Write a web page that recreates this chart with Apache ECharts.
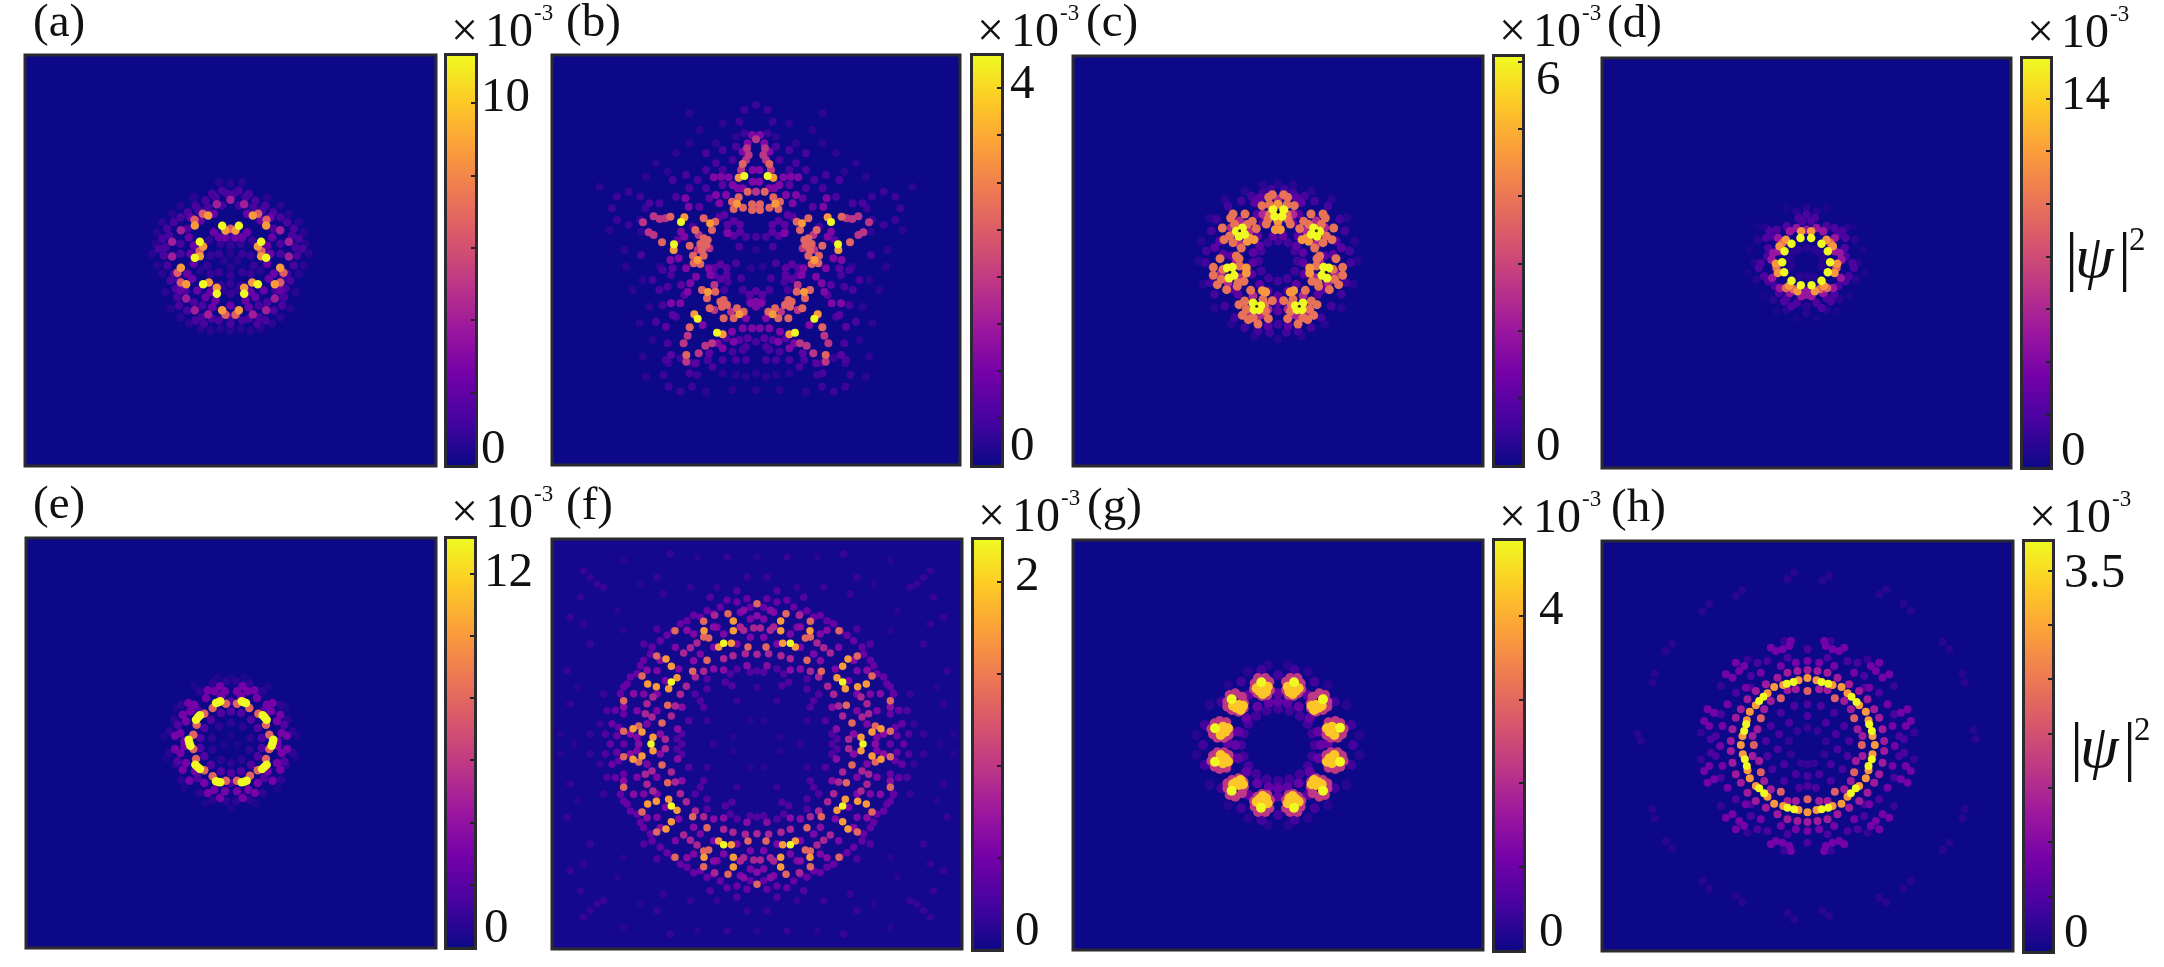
<!DOCTYPE html>
<html>
<head>
<meta charset="utf-8">
<title>psi</title>
<script src="https://cdn.jsdelivr.net/npm/echarts@6/dist/echarts.min.js"></script>
<style>
html, body { margin: 0; padding: 0; background: #fff; }
#main { width: 2164px; height: 967px; }
</style>
</head>
<body>
<div id="main"></div>
<script>
// site intensities: [value in 1e-3, [x, y, x, y, ...]]
const sitesA = [
  [11.3, [-25,104,25,104,-92,56,92,56,-107,8,107,8,-82,-71,82,-71,-41,-100,41,-100]],
  [8.6, [-67,135,67,135,-107,105,107,105,-15,90,15,90,-82,42,82,42,-92,13,92,13,-149,-22,149,-22,-133,-71,133,-71,-65,-66,65,-66,-41,-82,41,-82,-25,-149,25,-149]],
  [6.5, [-83,140,83,140,-108,122,108,122,0,95,-93,28,93,28,-159,-37,159,-37,-149,-66,149,-66,-15,-163,15,-163]],
  [4, [-41,169,41,169,0,182,-149,91,149,91,-175,56,175,56,-175,12,175,12,-133,-114,133,-114,-107,-149,107,-149,-67,-162,67,-162]],
  [2.2, [-50,85,50,85,-35,70,35,70,-15,68,15,68,-110,45,110,45,-120,20,120,20,-110,-10,110,-10,-60,-95,60,-95,-100,-90,100,-90,-75,-110,75,-110,-45,-120,45,-120,-120,130,120,130,-90,120,90,120,-50,140,50,140,-130,-40,130,-40,-115,-55,115,-55,-150,-90,150,-90,0,-135,-125,70,125,70,-55,-140,55,-140]],
  [1.3, [-25,210,25,210,-55,200,55,200,-75,180,75,180,-10,200,10,200,-25,165,25,165,-68,160,68,160,-105,165,105,165,-128,145,128,145,-170,115,170,115,-190,95,190,95,-130,95,130,95,-205,65,205,65,-215,35,215,35,-200,15,200,15,-190,-15,190,-15,-150,50,150,50,-150,20,150,20,-170,-40,170,-40,-180,-60,180,-60,-165,-85,165,-85,-160,-110,160,-110,-155,-135,155,-135,-130,-150,130,-150,-105,-180,105,-180,-80,-190,80,-190,-55,-175,55,-175,-35,-180,35,-180,0,-170,0,-190,-85,-135,85,-135,-45,190,45,190,-95,150,95,150,-150,130,150,130,-185,75,185,75,-195,40,195,40,-155,-60,155,-60,-135,-90,135,-90,-110,-125,110,-125,-85,-170,85,-170]],
  [0.9, [-60,-40,60,-40,-35,-35,35,-35,0,-45,-60,15,60,15,-35,20,35,20,0,45,0,70,-30,50,30,50,-65,60,65,60,-60,-70,60,-70,-30,-75,30,-75,0,-70,0,-100,-70,-15,70,-15]],
  [0.6, [-35,235,35,235,-110,190,110,190,-175,140,175,140,-220,85,220,85,-235,20,235,20,-205,-40,205,-40,-195,-95,195,-95,-180,-145,180,-145,-125,-190,125,-190,-60,-210,60,-210,0,-210,0,230,0,20,0,-20,-20,0,20,0,-90,-30,90,-30,-20,-90,20,-90,-150,165,150,165,-205,115,205,115,-225,50,225,50,-220,-15,220,-15,-150,-170,150,-170,-90,-205,90,-205,-30,-205,30,-205]]
]
const sitesB = [
  [4.34, [-35,252,35,252,-225,114,225,114,-246,47,246,47,-175,-176,175,-176,-117,-218,117,-218]],
  [3.3, [-57,169,58,169,-52,247,52,247,-138,110,138,110,-175,0,175,0,-215,128,215,128,-247,30,247,30,-144,-96,144,-96,-50,-163,50,-163,-185,-163,185,-163,-100,-223,100,-223]],
  [2.6, [-40,288,40,288,-25,205,26,205,-52,188,52,188,-72,175,72,175,-67,153,67,153,-39,157,40,157,-12,167,12,167,-12,150,12,150,-257,130,257,130,-282,53,282,53,-182,90,182,90,-199,43,199,43,-157,125,157,125,-122,115,122,115,-132,90,132,90,-157,65,157,65,-145,60,145,60,-167,48,167,48,-149,45,149,45,-162,30,162,30,-189,13,189,13,-157,13,157,13,-187,-10,187,-10,-167,-12,167,-12,-139,-145,139,-145,-97,-175,97,-175,-122,-95,122,-95,-162,-90,162,-90,-147,-115,147,-115,-97,-120,97,-120,-107,-125,107,-125,-87,-135,87,-135,-102,-140,102,-140,-67,-175,67,-175,-57,-145,57,-145,-37,-155,37,-155,-199,-202,199,-202,-209,-285,209,-285]],
  [1.9, [0,362,0,205,0,157,-307,131,307,131,-289,123,289,123,-272,125,272,125,-339,113,339,113,-322,83,322,83,-307,75,307,75,-132,-250,132,-250,-152,-257,152,-257,-172,-280,172,-280,-205,-227,205,-227,-217,-250,217,-250,-209,-305,209,-305,-27,335,27,335,-22,315,22,315,-30,300,30,300,-45,270,45,270,-172,75,172,75,-140,35,140,35,-175,30,175,30,-125,-75,125,-75,-125,-150,125,-150,-75,-155,75,-155]],
  [1.1, [-12,375,12,375,-127,248,127,248,-105,250,105,250,-82,248,82,248,-202,160,202,160,-212,185,212,185,-232,5,232,5,-257,0,257,0,-142,-25,142,-25,-137,-45,137,-45,-197,-70,197,-70,-227,-130,227,-130,-67,-245,67,-245,-72,-215,72,-215,0,-140,-12,-205,12,-205,0,-125,-15,-130,15,-130,-40,-205,40,-205,-85,80,85,80,-55,215,55,215,-70,225,70,225,-40,215,40,215,-90,195,90,195,-110,170,110,170,-120,195,120,195,-215,70,215,70,-225,85,225,85,-210,-25,210,-25,-180,-50,180,-50,-205,-95,205,-95,-255,-130,255,-130,-160,-195,160,-195,-115,-250,115,-250,-100,-265,100,-265,-30,-175,30,-175,-25,350,25,350,-40,325,40,325,-10,270,10,270,-10,235,10,235]],
  [0.7, [-67,117,-48,106,-48,84,-67,73,-86,84,-86,106,68,117,87,106,87,84,68,73,49,84,49,106,-107,-13,-88,-24,-88,-46,-107,-57,-126,-46,-126,-24,108,-13,127,-24,127,-46,108,-57,89,-46,89,-24,0,-93,19,-104,19,-126,0,-137,-19,-126,-19,-104,-100,225,100,225,-140,185,140,185,-170,160,170,160,-110,130,110,130,-95,135,95,135,-235,60,235,60,-250,-25,250,-25,-225,-75,225,-75,-215,-105,215,-105,-250,-165,250,-165,-270,-200,270,-200,-255,-285,255,-285,-180,-310,180,-310,-140,-280,140,-280,-90,-235,90,-235,-50,-240,50,-240,-25,-235,25,-235]],
  [0.5, [-175,240,175,240,-150,215,150,215,-120,290,120,290,-150,320,150,320,-255,-45,255,-45,-265,-80,265,-80,-240,-170,240,-170,-290,-90,290,-90,-345,15,345,15,-290,170,290,170,-250,240,250,240,-210,255,210,255,-40,-270,40,-270,-60,-300,60,-300,-190,100,190,100,0,-245,-30,-300,30,-300,-100,-300,100,-300,-145,-300,145,-300,-265,-250,265,-250,-300,-185,300,-185,-60,340,60,340,-30,70,30,70,0,70,-50,40,50,40,-60,-10,60,-10,-45,-55,45,-55,-100,330,100,330,-70,300,70,300,-100,270,100,270,-150,270,150,270,-200,215,200,215,-240,190,240,190,-320,170,320,170,-280,-30,280,-30,-310,-60,310,-60,-280,-135,280,-135,-270,-300,270,-300,-200,-340,200,-340,-130,-320,130,-320,-70,-275,70,-275,-30,-260,30,-260,-95,-90,95,-90,-40,-90,40,-90,-85,-65,85,-65]],
  [0.38, [-332,155,-347,190,-382,205,-417,190,-432,155,-417,120,-382,105,-347,120,333,155,348,190,383,205,418,190,433,155,418,120,383,105,348,120,50,415,35,450,0,465,-35,450,-50,415,-35,380,0,365,35,380,-177,-345,-192,-310,-227,-295,-262,-310,-277,-345,-262,-380,-227,-395,-192,-380,283,-345,268,-310,233,-295,198,-310,183,-345,198,-380,233,-395,268,-380]],
  [0.26, [-100,410,100,410,-120,350,120,350,-170,390,170,390,-240,320,240,320,-300,290,300,290,-290,-20,290,-20,-340,-60,340,-60,-395,30,395,30,-320,-140,320,-140,-310,-240,310,-240,-100,-340,100,-340,-70,-390,70,-390,0,-340,0,-390,-150,-395,150,-395,-440,90,440,90,-470,220,470,220,-200,440,200,440,0,30,-15,-25,20,-20,-60,370,60,370,-200,350,200,350,-265,265,265,265,-330,250,330,250,-345,85,345,85,-390,-20,390,-20,-370,-90,370,-90,-350,-190,350,-190,-340,-290,340,-290,-330,-350,330,-350,-30,-350,30,-350,-60,-345,60,-345]]
]
const sitesC = [
  [6.07, [-15,154,17,154,-10,134,12,134,107,99,125,89,117,74,100,80,137,-19,152,-21,132,-43,147,-51,52,-134,75,-126,72,-146,57,-146,-107,99,-125,89,-117,74,-100,80,-137,-19,-152,-21,-132,-43,-147,-51,-52,-134,-75,-126,-72,-146,-57,-146]],
  [4.6, [-8,94,7,94,0,119,0,170,85,68,92,59,72,64,-85,68,-92,59,-72,64,95,-21,95,-36,-95,-21,-95,-36,47,-89,37,-93,-47,-89,-37,-93]],
  [3.9, [-28,191,17,199,29,191,-17,199,-48,166,49,166,-25,169,27,169,-35,111,37,111,99,141,135,141,142,129,167,99,162,64,110,39,65,97,77,119,117,7,174,7,194,-19,194,-43,182,-71,154,-86,102,-61,122,-76,82,-88,117,-131,107,-163,89,-176,60,-189,29,-173,17,-119,37,-151,-99,141,-135,141,-142,129,-167,99,-162,64,-110,39,-65,97,-77,119,-117,7,-174,7,-194,-19,-194,-43,-182,-71,-154,-86,-102,-61,-122,-76,-82,-88,-117,-131,-107,-163,-89,-176,-60,-189,-29,-173,-17,-119,-37,-151,-25,140,27,140,-30,125,30,125,130,110,92,110,145,75,135,55,125,15,115,-15,165,-25,170,-55,120,-65,100,-120,45,-115,40,-130,95,-145,75,-170,-130,110,-92,110,-145,75,-135,55,-125,15,-115,-15,-165,-25,-170,-55,-120,-65,-100,-120,-45,-115,-40,-130,-95,-145,-75,-170]],
  [2.4, [0,105,0,185,-45,140,45,140,115,120,85,90,140,100,115,50,125,-5,170,-35,150,-65,115,-50,75,-105,90,-155,60,-165,45,-160,30,-145,-115,120,-85,90,-140,100,-115,50,-125,-5,-170,-35,-150,-65,-115,-50,-75,-105,-90,-155,-60,-165,-45,-160,-30,-145]],
  [1, [-45,115,45,115,-62,140,62,140,-15,75,15,75,60,75,-60,75,55,45,-55,45,75,25,-75,25,75,-5,-75,-5,78,-40,-78,-40,55,-70,-55,-70,30,-90,-30,-90,0,-105,0,-125,15,-120,-15,-120,140,15,-140,15,165,20,-165,20,135,-85,-135,-85,120,-100,-120,-100,-30,-195,30,-195,0,-150,-70,175,70,175,-55,190,55,190,175,60,-175,60,190,40,-190,40]],
  [0.6, [0,60,30,55,-30,55,50,30,-50,30,58,0,-58,0,50,-30,-50,-30,28,-52,-28,-52,0,-60,-45,205,45,205,-80,195,80,195,-110,180,110,180,-150,165,150,165,-185,125,185,125,-200,90,200,90,-215,30,215,30,-218,-5,218,-5,-205,-65,205,-65,-190,-100,190,-100,-160,-135,160,-135,-130,-170,130,-170,-100,-200,100,-200,-60,-210,60,-210,-25,-215,25,-215,0,-190,-20,215,20,215]],
  [0.3, [0,230,-45,228,45,228,-100,210,100,210,-160,185,160,185,-205,130,205,130,-230,60,230,60,-238,0,238,0,-225,-70,225,-70,-190,-140,190,-140,-140,-190,140,-190,-70,-225,70,-225,0,-235]]
]
const holesC = [[0,147],[115,91],[145,-34],[64,-136],[-64,-136],[-145,-34],[-115,91]]
const sitesD = [
  [15.5, [-18,75,14,75,-45,58,45,58,-66,35,64,35,-73,2,71,2,-67,-28,64,-28,-45,-53,45,-53,-17,-67,15,-67]],
  [11.6, [-16,95,14,95,-62,70,60,70,-81,50,79,50,-92,-2,92,-2,-86,-30,84,-30,-52,-68,52,-68,-27,-85,25,-85]],
  [9.5, [-72,60,72,60,-90,-15,90,-15,-62,-75,62,-75,-40,-78,40,-78]],
  [5, [-30,105,30,105,-50,95,50,95,-85,75,85,75,-100,30,100,30,-105,10,105,10,-103,-45,103,-45,-80,-75,80,-75,-50,-90,50,-90,0,-95,0,-85,-15,-100,15,-100,0,100,-85,35,85,35]],
  [1.9, [-24,135,0,145,25,135,-13,125,14,125,-110,95,-89,100,-121,75,-99,80,84,105,106,95,117,75,95,85,-137,0,-143,-15,-127,-40,-115,-55,138,0,143,-15,127,-40,117,-55,-83,-90,-67,-115,-45,-130,-29,-120,30,-120,46,-135,73,-115,84,-95,-115,45,115,45,-118,20,118,20,-60,-105,60,-105,-95,-70,95,-70,-60,110,60,110]],
  [0.8, [-40,30,40,30,0,45,0,-40,-45,-10,45,-10,-20,-40,20,-40,-25,40,25,40,-50,15,50,15,-30,155,30,155,0,165,-120,105,120,105,-145,70,145,70,-155,0,155,0,-150,-50,150,-50,-100,-110,100,-110,-60,-140,60,-140,0,-130,0,-150]],
  [0.35, [-60,165,60,165,-140,110,140,110,-170,40,170,40,-175,-30,175,-30,-130,-100,130,-100,-90,-145,90,-145,-30,-165,30,-165]]
]
const sitesE = [
  [13.1, [-45,120,-32,125,32,125,45,120,-105,70,-93,83,95,83,107,70,-127,10,-122,-8,127,10,122,-8,-107,-65,-93,-78,93,-78,107,-65,-45,-115,-32,-118,32,-118,47,-113,-38,122,38,122,-99,77,101,77,-125,1,125,1,-100,-72,100,-72,-38,-117,40,-116]],
  [7.8, [-55,105,-15,118,18,118,55,105,-80,88,-103,55,82,88,105,55,-113,25,-113,-18,115,25,115,-18,-105,-48,-80,-82,105,-48,80,-82,-55,-100,-15,-113,18,-113,57,-98]],
  [3, [-33,170,35,170,-70,158,70,158,-50,155,50,155,-18,155,18,155,-75,135,78,135,-128,120,125,120,-110,115,108,115,-145,85,148,85,-135,65,138,65,-122,95,120,95,-168,22,168,22,-152,30,152,30,-168,-18,168,-18,-152,-30,152,-30,-145,-80,148,-80,-125,-113,125,-113,-108,-85,110,-85,-135,-60,138,-60,-70,-150,72,-150,-33,-165,35,-165,-50,-140,52,-140,-18,-145,18,-145,-80,-120,80,-120,-140,5,140,5,-140,-10,140,-10,-30,140,30,140]],
  [1.8, [0,95,30,90,-30,90,60,70,-60,70,80,45,-80,45,92,15,-92,15,92,-15,-92,-15,80,-40,-80,-40,60,-65,-60,-65,30,-85,-30,-85,0,-90,0,125,0,-120,-100,100,100,100,-160,55,160,55,-160,-55,160,-55,-100,-105,100,-105]],
  [0.8, [0,60,35,50,-35,50,58,15,-58,15,55,-20,-55,-20,30,-50,-30,-50,0,-60,-15,185,15,185,-55,180,55,180,-95,155,95,155,-150,115,150,115,-170,70,170,70,-185,35,185,35,-185,-30,185,-30,-165,-65,165,-65,-150,-110,150,-110,-95,-150,95,-150,-55,-170,55,-170,-15,-175,15,-175]],
  [0.4, [0,195,-40,195,40,195,-110,170,110,170,-165,105,165,105,-200,20,200,20,-195,-45,195,-45,-140,-135,140,-135,-75,-180,75,-180,0,-195,0,20,20,-5,-20,-5]]
]
const sitesF = [
  [2.23, [-100,302,100,302,-100,-302,100,-302,-257,186,257,186,-257,-186,257,-186,-318,0,318,0]],
  [1.7, [-159,340,159,340,-159,-340,159,-340,-71,369,71,369,-71,-369,71,-369,-71,340,71,340,-71,-340,71,-340,-115,291,115,291,-115,-291,115,-291,-77,302,77,302,-77,-302,77,-302,-273,255,273,255,-273,-255,273,-255,-257,233,257,233,-257,-233,257,-233,-240,199,240,199,-240,-199,240,-199,-265,166,265,166,-265,-166,265,-166,-328,180,328,180,-328,-180,328,-180,-302,172,302,172,-302,-172,302,-172,-372,46,372,46,-372,-46,372,-46,-345,36,345,36,-345,-36,345,-36,-312,20,312,20,-312,-20,312,-20]],
  [1.35, [-27,291,27,291,-27,-291,27,-291,-145,318,145,318,-145,-318,145,-318,-160,321,160,321,-160,-321,160,-321,-87,391,87,391,-87,-391,87,-391,-160,368,160,368,-160,-368,160,-368,-150,251,150,251,-150,-251,150,-251,-193,218,193,218,-193,-218,193,-218,-268,116,268,116,-268,-116,268,-116,-285,63,285,63,-285,-63,285,-63,-355,54,355,54,-355,-54,355,-54,-400,130,400,130,-400,-130,400,-130,-301,264,301,264,-301,-264,301,-264,-246,340,246,340,-246,-340,246,-340,-345,204,345,204,-345,-204,345,-204,-400,38,400,38,-400,-38,400,-38,0,421,0,-421]],
  [0.85, [-100,256,100,256,-100,-256,100,-256,-72,265,72,265,-72,-265,72,-265,-35,271,35,271,-35,-271,35,-271,0,269,0,-269,-160,218,160,218,-160,-218,160,-218,-185,201,185,201,-185,-201,185,-201,-212,173,212,173,-212,-173,212,-173,-230,149,230,149,-230,-149,230,-149,-257,84,257,84,-257,-84,257,-84,-245,114,245,114,-245,-114,245,-114,-275,14,275,14,-275,-14,275,-14,-10,348,10,348,-10,-348,10,-348,-40,341,40,341,-40,-341,40,-341,-50,351,50,351,-50,-351,50,-351,-127,386,127,386,-127,-386,127,-386,-200,289,200,289,-200,-289,200,-289,-220,273,220,273,-220,-273,220,-273,-180,303,180,303,-180,-303,180,-303,-330,121,330,121,-330,-121,330,-121,-335,91,335,91,-335,-91,335,-91,-315,81,315,81,-315,-81,315,-81,-312,141,312,141,-312,-141,312,-141]],
  [0.62, [-130,351,130,351,-130,-351,130,-351,-210,341,210,341,-210,-341,210,-341,-290,251,290,251,-290,-251,290,-251,-330,221,330,221,-330,-221,330,-221,-370,151,370,151,-370,-151,370,-151,-400,111,400,111,-400,-111,400,-111,-380,30,380,30,-380,-30,380,-30,-355,0,355,0,-290,30,290,30,-290,-30,290,-30,-40,401,40,401,-40,-401,40,-401,0,385,0,-385,-190,250,190,250,-190,-250,190,-250,-130,225,130,225,-130,-225,130,-225,-100,222,100,222,-100,-222,100,-222,-30,235,30,235,-30,-235,30,-235,-225,110,225,110,-225,-110,225,-110,-238,45,238,45,-238,-45,238,-45]],
  [0.55, [-60,300,60,300,-60,-300,60,-300,-130,290,130,290,-130,-290,130,-290,-170,270,170,270,-170,-270,170,-270,-235,225,235,225,-235,-225,235,-225,-275,190,275,190,-275,-190,275,-190,-300,150,300,150,-300,-150,300,-150,-340,150,340,150,-340,-150,340,-150,-360,100,360,100,-360,-100,360,-100,-330,60,330,60,-330,-60,330,-60,-300,100,300,100,-300,-100,300,-100,-360,20,360,20,-360,-20,360,-20,-20,320,20,320,-20,-320,20,-320,-100,330,100,330,-100,-330,100,-330,-50,395,50,395,-50,-395,50,-395,-190,330,190,330,-190,-330,190,-330,-245,290,245,290,-245,-290,245,-290,-300,220,300,220,-300,-220,300,-220,-20,375,20,375,-20,-375,20,-375,-120,350,120,350,-120,-350,120,-350]],
  [0.42, [-30,436,30,436,-30,-436,30,-436,-60,426,60,426,-60,-426,60,-426,-130,391,130,391,-130,-391,130,-391,-190,386,190,386,-190,-386,190,-386,-230,361,230,361,-230,-361,230,-361,-270,326,270,326,-270,-326,270,-326,-315,291,315,291,-315,-291,315,-291,-340,251,340,251,-340,-251,340,-251,-380,201,380,201,-380,-201,380,-201,-410,151,410,151,-410,-151,410,-151,-425,101,425,101,-425,-101,425,-101,-435,61,435,61,-435,-61,435,-61,-440,0,440,0,-400,171,400,171,-400,-171,400,-171,-360,211,360,211,-360,-211,360,-211,-170,381,170,381,-170,-381,170,-381,-110,411,110,411,-110,-411,110,-411,-90,431,90,431,-90,-431,90,-431,-20,410,20,410,-20,-410,20,-410,-150,400,150,400,-150,-400,150,-400,-210,370,210,370,-210,-370,210,-370,-250,340,250,340,-250,-340,250,-340,-290,310,290,310,-290,-310,290,-310,-320,270,320,270,-320,-270,320,-270,-350,235,350,235,-350,-235,350,-235,-390,180,390,180,-390,-180,390,-180,-400,90,400,90,-400,-90,400,-90,-415,50,415,50,-415,-50,415,-50,-400,0,400,0,-420,25,420,25,-420,-25,420,-25]],
  [0.3, [-80,210,-60,225,-95,185,-75,175,80,210,60,225,95,185,75,175,-80,-210,-60,-225,-95,-185,-75,-175,80,-210,60,-225,95,-185,75,-175,-20,215,0,220,20,215,-20,-215,0,-220,20,-215,-170,130,-185,150,-150,165,-160,110,170,130,185,150,150,165,160,110,-170,-130,-185,-150,-150,-165,-160,-110,170,-130,185,-150,150,-165,160,-110,-225,30,-240,15,-225,0,-240,-15,-225,-30,225,30,240,15,225,0,240,-15,225,-30,-150,195,150,195,-150,-195,150,-195,-205,70,205,70,-205,-70,205,-70,-455,30,455,30,-455,-30,455,-30,-450,100,450,100,-450,-100,450,-100,-340,300,340,300,-340,-300,340,-300,-300,345,300,345,-300,-345,300,-345,-60,460,60,460,-60,-460,60,-460,-140,440,140,440,-140,-440,140,-440]],
  [0.18, [-470,60,470,60,-470,-60,470,-60,-500,30,500,30,-500,-30,500,-30,-460,150,460,150,-460,-150,460,-150,-520,360,520,360,-520,-360,520,-360,-500,300,500,300,-500,-300,500,-300,-560,380,560,380,-560,-380,560,-380,-530,440,530,440,-530,-440,530,-440,-480,480,480,480,-480,-480,480,-480,-500,500,500,500,-500,-500,500,-500,-460,470,460,470,-460,-470,460,-470,-520,520,520,520,-520,-520,520,-520,-280,450,280,450,-280,-450,280,-450,-300,500,300,500,-300,-500,300,-500,-200,470,200,470,-200,-470,200,-470,-120,470,120,470,-120,-470,120,-470,-30,500,30,500,-30,-500,30,-500,-560,120,560,120,-560,-120,560,-120,-570,220,570,220,-570,-220,570,-220,-90,560,90,560,-90,-560,90,-560,-260,570,260,570,-260,-570,260,-570,0,170,-60,130,60,130,-60,-130,60,-130,130,0,-130,0,-150,70,150,70,-150,-70,150,-70]],
  [0.11, [-590,30,590,30,-590,-30,590,-30,-400,340,400,340,-400,-340,400,-340,-420,400,420,400,-420,-400,420,-400,-350,480,350,480,-350,-480,350,-480,-400,550,400,550,-400,-550,400,-550,-180,560,180,560,-180,-560,180,-560,0,560,0,-560,-550,0,550,0,-540,170,540,170,-540,-170,540,-170,-20,70,20,70,-70,20,70,20,-70,-20,70,-20,-20,-70,20,-70]]
]
const sitesG = [
  [4.9, [-50,188,48,188,-139,137,135,137,-189,50,186,52,-189,-50,186,-50,-139,-137,135,-137,-51,-188,48,-188]],
  [4.3, [-56,163,-36,160,-46,153,-64,170,-31,175,54,163,34,160,44,153,62,170,29,175,-118,120,-105,118,-125,112,-112,105,-135,118,114,120,101,118,121,112,108,105,131,118,-165,55,-158,40,-172,30,-150,50,162,55,155,40,169,30,147,50,-165,-55,-158,-40,-172,-30,-150,-50,162,-55,155,-40,169,-30,147,-50,-118,-120,-105,-118,-125,-112,-112,-105,-135,-118,114,-120,101,-118,121,-112,108,-105,131,-118,-56,-163,-36,-160,-46,-153,-64,-170,-31,-175,54,-163,34,-160,44,-153,62,-170,29,-175]],
  [2.2, [-70,185,-26,190,-60,201,-38,201,-24,165,-32,150,-62,155,-48,147,-72,168,68,185,24,190,58,201,36,201,24,165,32,150,60,155,46,147,70,168,-152,130,-145,150,-128,155,-108,145,-102,125,-103,110,-118,100,-138,105,-152,115,148,130,141,150,124,155,104,145,98,125,99,110,114,100,134,105,148,115,-200,48,-195,32,-190,65,-175,72,-155,68,-148,48,-148,30,-162,22,-182,22,197,48,192,32,187,65,172,72,152,68,145,48,145,30,159,22,179,22,-200,-48,-195,-32,-190,-65,-175,-72,-155,-68,-148,-48,-148,-30,-162,-22,-182,-22,197,-48,192,-32,187,-65,172,-72,152,-68,145,-48,145,-30,159,-22,179,-22,-152,-130,-145,-150,-128,-155,-108,-145,-102,-125,-103,-110,-118,-100,-138,-105,-152,-115,148,-130,141,-150,124,-155,104,-145,98,-125,99,-110,114,-100,134,-105,148,-115,-70,-185,-26,-190,-60,-201,-38,-201,-24,-165,-32,-150,-62,-155,-48,-147,-72,-168,68,-185,24,-190,58,-201,36,-201,24,-165,32,-150,60,-155,46,-147,70,-168]],
  [0.9, [0,130,28,127,-28,127,62,115,-62,115,95,80,-95,80,120,40,-120,40,128,0,-128,0,120,-40,-120,-40,95,-80,-95,-80,62,-115,-62,-115,28,-127,-28,-127,0,-130,0,155,0,-155,88,150,-88,150,88,-150,-88,-150,150,5,-150,5]],
  [0.5, [0,108,34,103,-34,103,65,87,-65,87,89,63,-89,63,103,34,-103,34,110,0,-110,0,103,-34,-103,-34,89,-63,-89,-63,65,-87,-65,-87,34,-103,-34,-103,0,-108,-50,225,50,225,-110,190,110,190,-170,130,170,130,-220,60,220,60,-225,0,225,0,-220,-60,220,-60,-170,-130,170,-130,-110,-190,110,-190,-50,-225,50,-225,0,210,0,-210]],
  [0.25, [-30,240,30,240,-90,220,90,220,-150,180,150,180,-205,120,205,120,-245,30,245,30,-245,-30,245,-30,-205,-120,205,-120,-150,-180,150,-180,-90,-220,90,-220,-30,-240,30,-240]]
]
const sitesH = [
  [3.76, [-62,187,-42,192,42,192,62,187,-145,135,-132,148,132,148,147,132,-190,45,-184,65,185,65,193,45,-188,-40,-182,-60,183,-60,193,-40,-145,-127,-130,-142,130,-142,145,-127,-60,-185,-40,-190,42,-190,62,-185]],
  [2.85, [0,204,-27,197,27,197,-73,183,75,183,-100,177,102,177,-120,158,120,158,-155,122,155,122,-173,103,175,103,-182,77,183,77,-195,30,195,30,-200,3,202,3,-194,-25,195,-25,-180,-73,183,-73,-173,-97,175,-97,-155,-120,155,-120,-120,-152,120,-152,-100,-173,102,-173,-73,-180,75,-180,-27,-192,27,-192,0,-199]],
  [2.2, [0,165,-80,143,82,143,-140,83,140,83,-161,3,163,3,-140,-79,140,-79,-80,-137,82,-137,0,-160]],
  [1.3, [0,228,-30,225,30,225,-60,220,60,220,-90,205,90,205,-125,185,125,185,-155,165,155,165,-180,140,180,140,-200,110,200,110,-215,85,215,85,-225,50,225,50,-230,15,230,15,-230,-15,230,-15,-225,-50,225,-50,-215,-85,215,-85,-200,-110,200,-110,-180,-140,180,-140,-155,-165,155,-165,-125,-185,125,-185,-90,-205,90,-205,-60,-220,60,-220,-30,-225,30,-225,0,-228,-35,170,35,170,-110,135,110,135,-150,50,150,50,-145,-45,145,-45,-110,-130,110,-130,-35,-165,35,-165,-60,168,60,168,-130,110,130,110,-165,30,165,30,-165,-30,165,-30,-130,-105,130,-105,-60,-165,60,-165]],
  [0.85, [-110,295,-95,285,-75,290,-55,300,-50,315,50,315,55,300,75,290,95,285,110,295,-245,215,-225,205,-205,225,-190,240,-215,250,245,215,225,205,205,225,190,240,215,250,-310,75,-280,100,-295,60,-300,110,310,75,280,100,295,60,300,110,-310,-75,-280,-100,-295,-60,-300,-110,310,-75,280,-100,295,-60,300,-110,-245,-215,-225,-205,-205,-225,-190,-240,-215,-250,245,-215,225,-205,205,-225,190,-240,215,-250,-110,-295,-95,-285,-75,-290,-55,-300,-50,-315,50,-315,55,-300,75,-290,95,-285,110,-295,0,255,-35,250,35,250,-80,240,80,240,-140,220,140,220,-185,175,185,175,-240,125,240,125,-255,60,255,60,-262,0,262,0,-255,-60,255,-60,-240,-125,240,-125,-185,-175,185,-175,-140,-220,140,-220,-80,-240,80,-240,-35,-250,35,-250,0,-255]],
  [0.45, [0,125,40,120,-40,120,80,100,-80,100,110,60,-110,60,125,15,-125,15,120,-30,-120,-30,105,-70,-105,-70,70,-105,-70,-105,25,-125,-25,-125,0,-120,55,70,-55,70,85,35,-85,35,90,-10,-90,-10,70,-55,-70,-55,35,-85,-35,-85,0,-90,0,90,-170,175,170,175,-290,20,290,20,-290,-20,290,-20,-170,-175,170,-175,-150,250,150,250,-150,-250,150,-250,0,290,0,-290,-60,265,60,265,-120,255,120,255,-170,210,170,210,-215,160,215,160,-260,95,260,95,-275,30,275,30,-275,-30,275,-30,-260,-95,260,-95,-215,-160,215,-160,-170,-210,170,-210,-120,-255,120,-255,-60,-265,60,-265]],
  [0.3, [0,55,30,45,-30,45,55,15,-55,15,50,-25,-50,-25,20,-52,-20,-52,0,-55,-70,315,70,315,-70,-315,70,-315,-320,40,320,40,-320,-40,320,-40,-260,180,260,180,-260,-180,260,-180,-180,260,180,260,-180,-260,180,-260]],
  [0.2, [-40,520,-60,500,65,510,45,495,-196,467,-215,450,236,470,215,455,-295,427,-315,405,288,427,310,405,-406,307,-425,285,406,312,425,290,-458,217,-465,190,465,217,472,190,-510,37,-500,15,498,47,505,20,-40,-520,-60,-500,65,-510,45,-495,-196,-467,-215,-450,236,-470,215,-455,-295,-427,-315,-405,288,-427,310,-405,-406,-307,-425,-285,406,-312,425,-290,-458,-217,-465,-190,465,-217,472,-190]]
]

// colour bar scales, 1e-3 units
const barMax = [11.3, 4.34, 6.07, 15.5, 13.1, 2.23, 4.9, 3.76]
const barTicks = [
  [0,2,4,6,8,10],
  [0,0.5,1,1.5,2,2.5,3,3.5,4],
  [0,1,2,3,4,5,6],
  [0,2,4,6,8,10,12,14],
  [0,2,4,6,8,10,12],
  [0,0.5,1,1.5,2],
  [0,1,2,3,4],
  [0,0.5,1,1.5,2,2.5,3,3.5]
]
const barLabels = [[0,10],[0,4],[0,6],[0,14],[0,12],[0,2],[0,4],[0,3.5]]
const panelNames = ['(a)','(b)','(c)','(d)','(e)','(f)','(g)','(h)']
const allSites = [sitesA, sitesB, sitesC, sitesD, sitesE, sitesF, sitesG, sitesH]

const plasma = ['#0d0887','#47039f','#7301a8','#9c179e','#bd3786','#d8576b','#ed7953','#fb9f3a','#fdca26','#f0f921']

// layout, px: frame [left, right, top, bottom], bar [left, right, top, bottom]
const frames = [
  [25,436,55,466],[552,960,55,465],[1073,1483,56,466],[1602,2011,58,468],
  [26,436,538,948],[552,962,539,949],[1073,1483,540,950],[1602,2013,541,951]
]
const bars = [
  [447,475,56,465],[973,1001,56,465],[1495,1522,57,465],[2023,2050,59,467],
  [447,474,539,947],[974,1001,540,949],[1495,1523,541,950],[2025,2052,542,951]
]
const frameColor = ['#0d0887','#0d0887','#0d0887','#0d0887','#0d0887','#14088c','#0d0887','#0d0887']
const dotSize = [8.5,8,9,8.5,8.5,7.5,10,8]
const labelMargin = [6,9,14,11,10,14,16,12]
const topShift = [-5,-3,19,-2,0,-5,-5,4]
const zeroShift = [-15,-18,-18,-15,-18,-17,-17,-17]
const letterPos = [[33,37],[566,37],[1086,37],[1607,38],[33,519],[566,520],[1087,521],[1611,522]]
const unitBase = [47,47,47,48,528,532,533,533]
const SERIF = '"Liberation Serif", "Times New Roman", serif'

function expand (groups) {
  const out = []
  groups.forEach(g => {
    for (let i = 0; i < g[1].length; i += 2) out.push([g[1][i], g[1][i + 1], g[0]])
  })
  // bright sites are drawn last
  return out.sort((p, q) => p[2] - q[2])
}

function shiftRich (shift) {
  const pad = shift < 0 ? [0, 0, -2 * shift, 0] : [2 * shift, 0, 0, 0]
  return { fontFamily: SERIF, fontSize: 49, color: '#111', padding: pad }
}

const grid = [], xAxis = [], yAxis = [], series = [], visualMap = [], graphic = []

frames.forEach((f, i) => {
  const halfW = (f[1] - f[0]) * 1.5
  const halfH = (f[3] - f[2]) * 1.5
  grid.push({
    left: f[0], top: f[2], width: f[1] - f[0], height: f[3] - f[2], show: true,
    backgroundColor: frameColor[i], borderColor: '#2a2a30', borderWidth: 3
  })
  xAxis.push({ gridIndex: i, type: 'value', min: -halfW, max: halfW, show: false })
  yAxis.push({ gridIndex: i, type: 'value', min: -halfH, max: halfH, show: false })
  series.push({
    type: 'scatter', xAxisIndex: i, yAxisIndex: i, data: expand(allSites[i]),
    symbolSize: dotSize[i], silent: true, progressive: 0, itemStyle: { opacity: 1 }
  })
  visualMap.push({
    show: false, type: 'continuous', seriesIndex: i, dimension: 2,
    min: 0, max: barMax[i], inRange: { color: plasma }
  })
})

// black gaps in the middle of the (c) flowers
series.push({
  type: 'scatter', xAxisIndex: 2, yAxisIndex: 2, data: holesC, symbolSize: 3,
  silent: true, z: 5, itemStyle: { color: '#000' }
})

bars.forEach((b, i) => {
  const g = grid.length
  grid.push({
    left: b[0], top: b[2], width: b[1] - b[0], height: b[3] - b[2], show: true,
    backgroundColor: '#0d0887', borderColor: '#2a2a30', borderWidth: 6
  })
  xAxis.push({ gridIndex: g, type: 'category', data: ['bar'], show: false })
  yAxis.push({
    gridIndex: g, type: 'value', min: 0, max: barMax[i], position: 'right', z: 6,
    splitLine: { show: false }, axisLine: { show: false },
    axisTick: { show: true, inside: true, length: 4, customValues: barTicks[i], lineStyle: { color: '#222', width: 2 } },
    axisLabel: {
      show: true, margin: labelMargin[i], customValues: barLabels[i],
      formatter: v => (v === 0 ? '{z|0}' : '{t|' + v + '}'),
      rich: { z: shiftRich(zeroShift[i]), t: shiftRich(topShift[i]) }
    }
  })
  series.push({
    type: 'bar', xAxisIndex: g, yAxisIndex: g, data: [barMax[i]], barWidth: '100%',
    silent: true,
    itemStyle: {
      color: new echarts.graphic.LinearGradient(0, 1, 0, 0,
        plasma.map((c, k) => ({ offset: k / (plasma.length - 1), color: c })))
    }
  })
})

function text (x, y, str, size, font) {
  graphic.push({
    type: 'text', x: x, y: y, silent: true,
    style: { text: str, font: (font || '') + ' ' + size + 'px ' + SERIF, fill: '#111', verticalAlign: 'bottom' }
  })
}

panelNames.forEach((name, i) => {
  text(letterPos[i][0], letterPos[i][1] + 10, name, 47)
  const left = bars[i][0]
  text(left + 4, unitBase[i] + 10, '×', 48)
  text(left + 38, unitBase[i] + 10, '10', 48)
  text(left + 87, unitBase[i] - 27 + 5, '-3', 23)
})

// |psi|^2 next to (d) and (h)
function psi (x, y) {
  text(x + 1, y + 6, '|', 66)
  text(x + 11, y + 4, 'ψ', 62, 'italic')
  text(x + 54, y + 6, '|', 66)
  text(x + 65, y - 30, '2', 33)
}
psi(2064, 288)
psi(2069, 778)

const chart = echarts.init(document.getElementById('main'))
chart.setOption({
  animation: false,
  backgroundColor: '#fff',
  grid: grid,
  xAxis: xAxis,
  yAxis: yAxis,
  visualMap: visualMap,
  series: series,
  graphic: graphic
})
</script>
</body>
</html>
